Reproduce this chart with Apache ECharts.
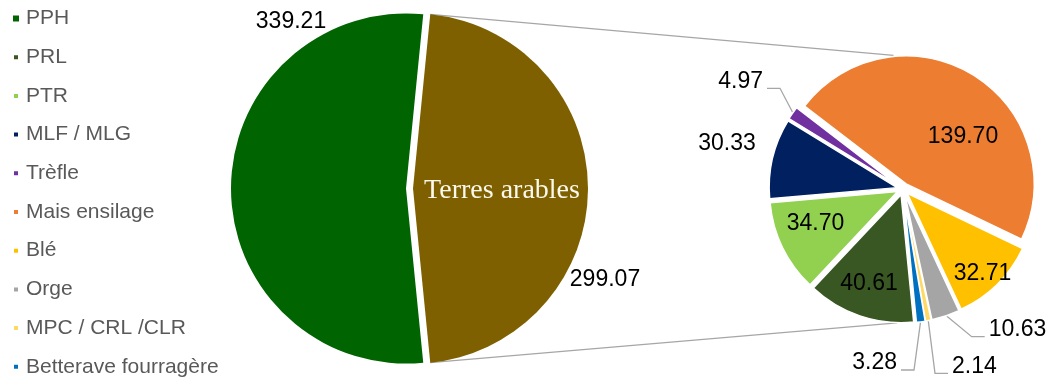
<!DOCTYPE html>
<html>
<head>
<meta charset="utf-8">
<script src="https://cdn.jsdelivr.net/npm/echarts@6/dist/echarts.min.js"></script>
<style>
  html, body { margin: 0; padding: 0; background: #ffffff; }
  #chart { width: 1052px; height: 378px; }
</style>
</head>
<body>
<div id="chart"></div>
<script>
// Main split of the surface
const mainCategories = ['PPH', 'Terres arables'];
const mainValues = [339.21, 299.07];

// Breakdown of arable land, in clockwise drawing order
const arableCategories = ['PRL', 'PTR', 'MLF / MLG', 'Trèfle', 'Mais ensilage', 'Blé', 'Orge', 'MPC / CRL /CLR', 'Betterave fourragère'];
const arableValues = [40.61, 34.70, 30.33, 4.97, 139.70, 32.71, 10.63, 2.14, 3.28];

// Legend entries
const legendNames = ['PPH', 'PRL', 'PTR', 'MLF / MLG', 'Trèfle', 'Mais ensilage', 'Blé', 'Orge', 'MPC / CRL /CLR', 'Betterave fourragère'];

const colors = {
  'PPH': '#006400',
  'Terres arables': '#7f6000',
  'PRL': '#385723',
  'PTR': '#92d050',
  'MLF / MLG': '#002060',
  'Trèfle': '#7030a0',
  'Mais ensilage': '#ed7d31',
  'Blé': '#ffc000',
  'Orge': '#a5a5a5',
  'MPC / CRL /CLR': '#ffd966',
  'Betterave fourragère': '#0070c0'
};

// Pie geometry (pixels)
const L = { cx: 406, cy: 188.5, r: 175, offset: 7 };
const R = { cx: 903, cy: 189, r: 128, offset: 6 };

// Label anchors, relative to each pie centre
const mainLabelAt = { 'PPH': [-115, -166.5], 'Terres arables': [199, 91.5] };
const nameLabelAt = { 'Terres arables': [96, 2.5] };
const arableLabelAt = {
  'Mais ensilage': [60, -52.5],
  'Blé': [79.5, 84.5],
  'PTR': [-87.5, 34.5],
  'PRL': [-34, 94.5],
  'MLF / MLG': [-176, -45.5]
};
// Labels with a leader line: elbow point (relative to centre) and side of the text
const leaders = {
  'Trèfle': { elbow: [-123, -100.7], dir: -1 },
  'Orge': { elbow: [68.7, 147.7], dir: 1 },
  'Betterave fourragère': { elbow: [11, 181], dir: -1 },
  'MPC / CRL /CLR': { elbow: [32, 184.3], dir: 1 }
};
const LEADER_RUN = 13;   // horizontal part of a leader
const LEADER_GAP = 4;    // space between leader end and text
const TEXT_RISE = 7;     // text centre above the leader's horizontal part
// Where the connector lines meet the breakdown pie (degrees, counter-clockwise from east)
const connectorAngles = { top: 94, bottom: -92.5 };

const sum = a => a.reduce((s, v) => s + v, 0);
const mainTotal = sum(mainValues);
const arableTotal = sum(arableValues);
// The arable slice is centred on the horizontal axis; the breakdown pie starts at its lower edge
const halfArc = 180 * mainValues[1] / mainTotal;
const startAngle = 360 - halfArc;

const rad = d => d * Math.PI / 180;

function midAngles(values, total, start) {
  let a = start;
  return values.map(v => {
    const sweep = 360 * v / total;
    const m = a - sweep / 2;
    a -= sweep;
    return m;
  });
}
const arableMid = midAngles(arableValues, arableTotal, startAngle);

const labelFont = 'Liberation Sans, Arial, sans-serif';

function leaderEnd(name) {
  const ld = leaders[name];
  const ex = R.cx + ld.elbow[0], ey = R.cy + ld.elbow[1];
  return { ex, ey, endX: ex + ld.dir * LEADER_RUN, dir: ld.dir };
}

// Connector lines from the arable slice edges to the breakdown pie
const arableCx = L.cx + L.offset;
const topEdge = [arableCx + L.r * Math.cos(rad(halfArc)), L.cy - L.r * Math.sin(rad(halfArc))];
const botEdge = [arableCx + L.r * Math.cos(rad(halfArc)), L.cy + L.r * Math.sin(rad(halfArc))];
const rho = R.r + R.offset;
const onRight = a => [R.cx + rho * Math.cos(rad(a)), R.cy - rho * Math.sin(rad(a))];
const topEnd = onRight(connectorAngles.top);
const botEnd = onRight(connectorAngles.bottom);

const lineStyle = { stroke: '#a6a6a6', lineWidth: 1.3, fill: null };
const graphics = [
  { type: 'line', z: 0, silent: true, shape: { x1: topEdge[0], y1: topEdge[1], x2: topEnd[0], y2: topEnd[1] }, style: lineStyle },
  { type: 'line', z: 0, silent: true, shape: { x1: botEdge[0], y1: botEdge[1], x2: botEnd[0], y2: botEnd[1] }, style: lineStyle }
];
arableCategories.forEach((name, i) => {
  if (!leaders[name]) return;
  const m = rad(arableMid[i]);
  const reach = R.r + R.offset - 1;
  const ax = R.cx + reach * Math.cos(m), ay = R.cy - reach * Math.sin(m);
  const e = leaderEnd(name);
  graphics.push({
    type: 'polyline', z: 0, silent: true,
    shape: { points: [[ax, ay], [e.ex, e.ey], [e.endX, e.ey]] },
    style: lineStyle
  });
});

// A transparent copy of a pie that only carries text labels
function labelPie(geo, names, values, label, layout, showFor) {
  return {
    type: 'pie',
    silent: true,
    center: [geo.cx, geo.cy],
    radius: geo.r,
    startAngle: startAngle,
    clockwise: true,
    avoidLabelOverlap: false,
    emphasis: { disabled: true },
    z: 3,
    data: names.map((n, i) => ({
      name: n,
      value: values[i],
      itemStyle: { color: 'rgba(0,0,0,0)', borderWidth: 0 },
      label: { show: showFor ? showFor(n) : true }
    })),
    label: Object.assign({ position: 'inside' }, label),
    labelLine: { show: false },
    labelLayout: p => layout(names[p.dataIndex])
  };
}

const valueLabel = {
  formatter: p => p.value.toFixed(2),
  fontFamily: labelFont,
  fontSize: 23,
  color: '#000000'
};

const chart = echarts.init(document.getElementById('chart'));
chart.setOption({
  backgroundColor: '#ffffff',
  animation: false,
  legend: {
    data: legendNames,
    orient: 'vertical',
    left: 12,
    top: 8,
    padding: 0,
    icon: 'rect',
    itemWidth: 6,
    itemHeight: 6,
    itemGap: 17.7,
    selectedMode: false,
    textStyle: {
      fontFamily: labelFont,
      fontSize: 21,
      lineHeight: 21,
      color: '#595959',
      padding: [0, 0, 0, 2]
    }
  },
  graphic: graphics,
  series: [
    {
      type: 'pie',
      name: 'Surfaces',
      center: [L.cx, L.cy],
      radius: L.r,
      startAngle: startAngle,
      clockwise: true,
      selectedMode: 'single',
      selectedOffset: L.offset,
      emphasis: { disabled: true },
      data: mainCategories.map((n, i) => ({
        name: n,
        value: mainValues[i],
        selected: n === 'Terres arables',
        itemStyle: { color: colors[n] }
      })),
      label: { show: false },
      labelLine: { show: false }
    },
    {
      type: 'pie',
      name: 'Terres arables',
      center: [R.cx, R.cy],
      radius: R.r,
      startAngle: startAngle,
      clockwise: true,
      selectedMode: 'multiple',
      selectedOffset: R.offset,
      emphasis: { disabled: true },
      itemStyle: { borderColor: '#ffffff', borderWidth: 1.5 },
      data: arableCategories.map((n, i) => ({
        name: n,
        value: arableValues[i],
        selected: true,
        itemStyle: { color: colors[n] }
      })),
      label: { show: false },
      labelLine: { show: false }
    },
    // value labels of the main pie
    labelPie(L, mainCategories, mainValues, valueLabel, n => {
      const d = mainLabelAt[n];
      return { x: L.cx + d[0], y: L.cy + d[1], align: 'center', verticalAlign: 'middle' };
    }),
    // category name inside the arable slice
    labelPie(L, mainCategories, mainValues, {
      formatter: p => p.name,
      fontFamily: 'Liberation Serif, Times New Roman, serif',
      fontSize: 28,
      color: '#fbf8ee'
    }, n => {
      const d = nameLabelAt[n] || [0, 0];
      return { x: L.cx + d[0], y: L.cy + d[1], align: 'center', verticalAlign: 'middle' };
    }, n => !!nameLabelAt[n]),
    // value labels of the breakdown pie
    labelPie(R, arableCategories, arableValues, valueLabel, n => {
      if (leaders[n]) {
        const e = leaderEnd(n);
        return {
          x: e.endX + e.dir * LEADER_GAP,
          y: e.ey - TEXT_RISE,
          align: e.dir > 0 ? 'left' : 'right',
          verticalAlign: 'middle'
        };
      }
      const d = arableLabelAt[n];
      return { x: R.cx + d[0], y: R.cy + d[1], align: 'center', verticalAlign: 'middle' };
    })
  ]
});
</script>
</body>
</html>
